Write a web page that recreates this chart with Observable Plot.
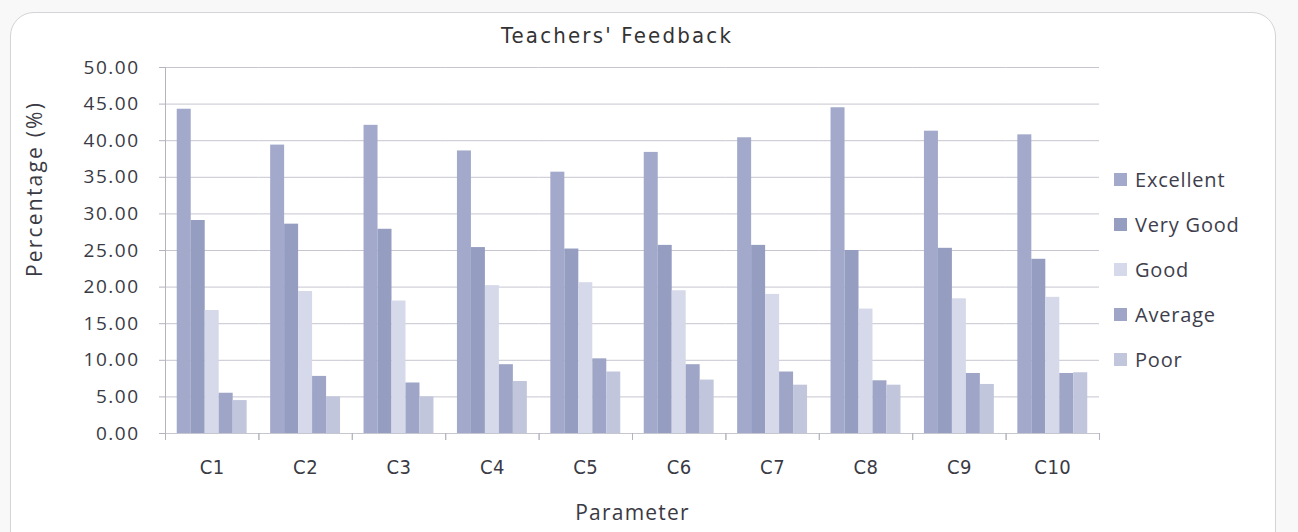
<!DOCTYPE html>
<html>
<head>
<meta charset="utf-8">
<script src="https://cdn.jsdelivr.net/npm/d3@7"></script>
<script src="https://cdn.jsdelivr.net/npm/@observablehq/plot@0.6"></script>
<style>
  body { margin: 0; background: #fafafa; }
  #wrap { position: relative; width: 1298px; height: 532px; overflow: hidden; background: #f8f8f8; }
  #box { position: absolute; left: 10px; top: 12px; width: 1264px; height: 560px; border: 1.5px solid #d4d4d8; border-radius: 24px; background: #fff; }
  #chart { position: absolute; left: 0; top: 0; }
  #title { position: absolute; left: 0; width: 1234px; top: 23px; text-align: center;
           font: 22px "DejaVu Sans Condensed", "DejaVu Sans"; letter-spacing: 2.2px; color: #333; }
  #ytitle { position: absolute; left: 34px; top: 189px; transform: translate(-50%, -50%) rotate(-90deg);
            white-space: nowrap; font: 21px "Open Sans"; letter-spacing: 2.2px; color: #3a3a44; }
  #legend { position: absolute; left: 1114px; top: 157px; font: 20px "Open Sans"; letter-spacing: 0.8px; color: #3e3e4c; }
  .row { height: 45px; display: flex; align-items: center; }
  .sw { width: 13px; height: 13px; margin-right: 8px; }
</style>
</head>
<body>
<div id="wrap">
  <div id="box"></div>
  <div id="chart"></div>
  <div id="title">Teachers' Feedback</div>
  <div id="ytitle">Percentage (%)</div>
  <div id="legend"></div>
</div>
<script>
const params = ["C1", "C2", "C3", "C4", "C5", "C6", "C7", "C8", "C9", "C10"];
const series = ["Excellent", "Very Good", "Good", "Average", "Poor"];
const excellent = [44.3, 39.4, 42.1, 38.6, 35.7, 38.4, 40.4, 44.5, 41.3, 40.8];
const veryGood  = [29.1, 28.6, 27.9, 25.4, 25.2, 25.7, 25.7, 25.0, 25.3, 23.8];
const good      = [16.8, 19.4, 18.1, 20.2, 20.6, 19.5, 19.0, 17.0, 18.4, 18.6];
const average   = [5.5, 7.8, 6.9, 9.4, 10.2, 9.4, 8.4, 7.2, 8.2, 8.2];
const poor      = [4.5, 5.0, 5.0, 7.1, 8.4, 7.3, 6.6, 6.6, 6.7, 8.3];
const yTicks = [0, 5, 10, 15, 20, 25, 30, 35, 40, 45, 50];
const colors = ["#a2a9cb", "#959dc1", "#d6d9ea", "#9fa5c6", "#c1c6dd"];

const valuesBySeries = [excellent, veryGood, good, average, poor];
const rows = [];
params.forEach((p, i) => series.forEach((s, j) => rows.push({param: p, series: s, value: valuesBySeries[j][i]})));

const W = 1298, H = 532, mL = 165, mR = 199, mT = 67, mB = 99;
const fxStep = (W - mL - mR) / params.length;

const chart = Plot.plot({
  width: W, height: H,
  marginLeft: mL, marginRight: mR, marginTop: mT, marginBottom: mB,
  style: {background: "transparent", fontFamily: "Open Sans", color: "#3a3a44"},
  fx: {domain: params, padding: 0, label: null, round: false},
  x: {domain: series, paddingInner: 0, paddingOuter: 0.84, round: false, axis: null},
  y: {domain: [0, 50], label: null},
  color: {domain: series, range: colors},
  marks: [
    Plot.gridY(yTicks, {stroke: "#c6c6d0", strokeOpacity: 1}),
    Plot.barY(rows, {fx: "param", x: "series", y: "value", fill: "series"}),
    Plot.frame({anchor: "left", facetAnchor: "left", stroke: "#b4b4be"}),
    Plot.axisY(yTicks, {tickSize: 6, tickPadding: 20, tickFormat: d3.format(".2f"), stroke: "#b4b4be",
      fontSize: 19, label: null}),
    Plot.axisFx({anchor: "bottom", tickSize: 0, tickPadding: 26, fontSize: 20,
      label: "Parameter", labelAnchor: "center", labelArrow: "none", labelOffset: 86}),
    Plot.axisFx({anchor: "bottom", tickSize: 7, text: null, label: null, dx: -fxStep / 2, stroke: "#b4b4be"}),
    Plot.axisFx([params[params.length - 1]], {anchor: "bottom", tickSize: 7, text: null, label: null, dx: fxStep / 2, stroke: "#b4b4be"})
  ]
});
document.getElementById("chart").appendChild(chart);

const svg = d3.select(chart);
svg.selectAll("g[aria-label='fx-axis tick label'] text")
  .style("font-family", "'DejaVu Sans Condensed'").style("letter-spacing", "0.5px");
svg.selectAll("g[aria-label='y-axis tick label'] text").style("letter-spacing", "1.5px");
svg.selectAll("g[aria-label='fx-axis label'] text").style("font-size", "21px").style("letter-spacing", "1.2px");

const legend = d3.select("#legend");
series.forEach((s, j) => {
  const r = legend.append("div").attr("class", "row");
  r.append("div").attr("class", "sw").style("background", colors[j]);
  r.append("span").text(s);
});
</script>
</body>
</html>
